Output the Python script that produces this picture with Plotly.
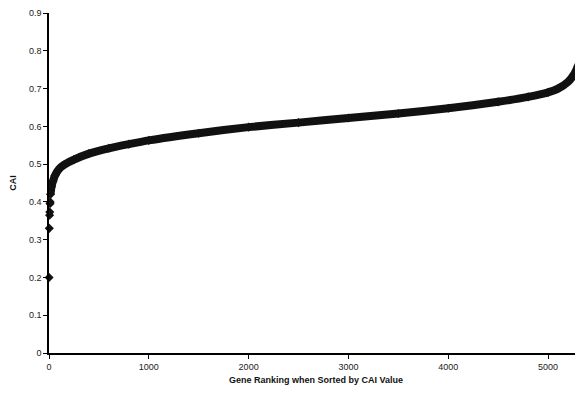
import plotly.graph_objects as go

# Low-CAI outlier genes
outlier_rank = [1, 3, 6, 8, 10, 12]
outlier_cai = [0.20, 0.33, 0.365, 0.373, 0.395, 0.40]

# Main sorted band
band_rank = [15, 25, 40, 60, 100, 150, 250, 400, 600, 800, 1000, 1500, 2000,
             2500, 3000, 3500, 4000, 4500, 4800, 5000, 5100, 5200, 5260, 5300,
             5325, 5338]
band_cai = [0.42, 0.44, 0.455, 0.47, 0.487, 0.498, 0.512, 0.528, 0.542, 0.553,
            0.563, 0.582, 0.598, 0.610, 0.622, 0.634, 0.648, 0.665, 0.678,
            0.690, 0.700, 0.718, 0.738, 0.760, 0.780, 0.800]

# Highest-CAI gene
top_rank = [5340]
top_cai = [0.83]

x_ticks = [0, 1000, 2000, 3000, 4000, 5000]
y_ticks = [0, 0.1, 0.2, 0.3, 0.4, 0.5, 0.6, 0.7, 0.8, 0.9]
y_labels = ["0", "0.1", "0.2", "0.3", "0.4", "0.5", "0.6", "0.7", "0.8", "0.9"]

fig = go.Figure()
fig.add_trace(go.Scatter(
    x=band_rank, y=band_cai, mode="lines+markers",
    line=dict(color="#111111", width=8, shape="spline", smoothing=0.6),
    marker=dict(symbol="diamond", size=7, color="#111111"),
    showlegend=False, cliponaxis=False))
fig.add_trace(go.Scatter(
    x=outlier_rank + top_rank, y=outlier_cai + top_cai, mode="markers",
    marker=dict(symbol="diamond", size=7, color="#111111"),
    showlegend=False, cliponaxis=False))

axis_font = dict(family="Liberation Sans, Arial, sans-serif", size=9, color="#222222")
# page body has an 8px default margin, so the figure is sized to fit the window
fig.update_layout(
    width=575, height=377,
    margin=dict(l=41, r=0, t=2, b=32),
    paper_bgcolor="white", plot_bgcolor="white",
    font=axis_font,
)
fig.update_xaxes(
    range=[0, 5350], tickvals=x_ticks, ticktext=[str(t) for t in x_ticks],
    showgrid=False, zeroline=False, showline=True, linecolor="black", linewidth=1.5,
    ticks="outside", ticklen=4, tickcolor="black", tickfont=axis_font,
    ticklabeloverflow="allow",
    title=dict(text="<b>Gene Ranking when Sorted by CAI Value</b>",
               font=dict(family="Liberation Sans, Arial, sans-serif", size=9, color="#111111"),
               standoff=6),
)
fig.update_yaxes(
    range=[0, 0.9002], tickvals=y_ticks, ticktext=y_labels,
    showgrid=False, zeroline=False, showline=True, linecolor="black", linewidth=1.5,
    ticks="outside", ticklen=4, tickcolor="black", tickfont=axis_font,
    ticklabeloverflow="allow",
    title=dict(text="<b>CAI</b>",
               font=dict(family="Liberation Sans, Arial, sans-serif", size=9, color="#111111"),
               standoff=12),
)

fig.write_html("out.html")
